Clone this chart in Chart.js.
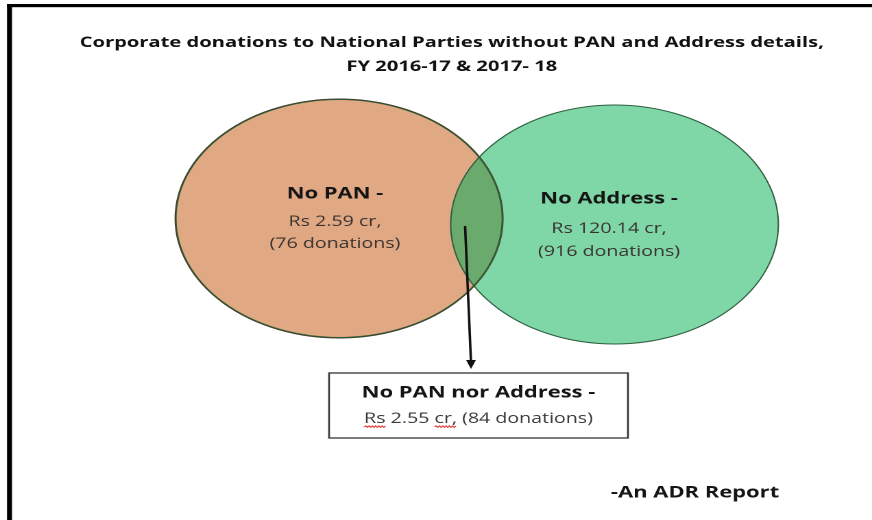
<!DOCTYPE html>
<html>
<head>
<meta charset="utf-8">
<title>Corporate donations without PAN and Address details</title>
<script src="https://cdn.jsdelivr.net/npm/chart.js@4.4.1/dist/chart.umd.min.js"></script>
<style>
  html, body { margin: 0; padding: 0; background: #fff; }
  /* the source graphic is stretched sideways, so the chart is drawn narrow and widened */
  #wrap { position: relative; width: 636px; height: 520px; transform: scaleX(1.3711); transform-origin: 0 0; }
</style>
</head>
<body>
<div id="wrap"><canvas id="venn"></canvas></div>
<script>
const titleLines = ["Corporate donations to National Parties without PAN and Address details,", "FY 2016-17 & 2017- 18"];
const setNames = ["No PAN -", "No Address -"];
const setAmountsCr = [2.59, 120.14];
const setDonations = [76, 916];
const overlapName = "No PAN nor Address -";
const overlapAmountCr = 2.55;
const overlapDonations = 84;
const sourceNote = "-An ADR Report";

// layout, in axis units (hidden axes run 1:1 with the unstretched canvas)
const circles = [
  { cx: 247.3, cy: 218.5, r: 119.5, fill: "#e1a884", stroke: "#4a3426" },
  { cx: 448.2, cy: 224.5, r: 119.5, fill: "#7fd6a6", stroke: "#2c5e3e" }
];
const labelPos = [
  { x: 244.3, y: [194, 222, 244] },
  { x: 444.2, y: [199, 229, 252] }
];
const arrowPos = { x1: 339.2, y1: 226, x2: 343.5, y2: 369 };
const boxPos = { left: 240, right: 458, top: 373, bottom: 438, y: [393, 419] };
const notePos = { x: 506.9, y: 493 };

const FAMILY = '"Open Sans", sans-serif';
const BOLD = "bold 16px " + FAMILY;
const REGULAR = "14.3px " + FAMILY;
const LENS_FILL = "#6aaa6c";

// bubble controller that does not pad the chart area for its huge circles
class VennController extends Chart.BubbleController {
  getMaxOverflow() {
    return false;
  }
}
VennController.id = "venn";
VennController.defaults = Chart.BubbleController.defaults;
VennController.overrides = Chart.BubbleController.overrides;
Chart.register(VennController);

function say(ctx, str, x, y, font, color) {
  ctx.font = font;
  ctx.fillStyle = color;
  ctx.textAlign = "center";
  ctx.textBaseline = "middle";
  ctx.fillText(str, x, y);
}

// Word's red spell-check squiggle under part of a line
function squiggle(ctx, x0, x1, y) {
  ctx.beginPath();
  let up = true;
  ctx.moveTo(x0, y);
  for (let x = x0 + 1.2; x <= x1; x += 1.2) {
    ctx.lineTo(x, up ? y - 1.1 : y + 0.4);
    up = !up;
  }
  ctx.strokeStyle = "#e0322c";
  ctx.lineWidth = 0.9;
  ctx.stroke();
}

const vennNotes = {
  id: "vennNotes",
  afterDatasetsDraw(chart) {
    const ctx = chart.ctx;
    const [a, b] = [0, 1].map(i => chart.getDatasetMeta(i).data[0]);
    const ra = a.options.radius, rb = b.options.radius;
    ctx.save();
    ctx.beginPath();
    ctx.arc(a.x, a.y, ra, 0, Math.PI * 2);
    ctx.clip();
    ctx.beginPath();
    ctx.arc(b.x, b.y, rb, 0, Math.PI * 2);
    ctx.fillStyle = LENS_FILL;
    ctx.fill();
    ctx.lineWidth = 1;
    ctx.strokeStyle = circles[1].stroke;
    ctx.stroke();
    ctx.beginPath();
    ctx.arc(a.x, a.y, ra, 0, Math.PI * 2);
    ctx.lineWidth = 2;
    ctx.strokeStyle = "#2f5a34";
    ctx.stroke();
    ctx.restore();
  },
  afterDraw(chart) {
    const ctx = chart.ctx;
    const xs = chart.scales.x, ys = chart.scales.y;
    const px = v => xs.getPixelForValue(v);
    const py = v => ys.getPixelForValue(v);
    ctx.save();

    setNames.forEach((name, i) => {
      const p = labelPos[i];
      say(ctx, name, px(p.x), py(p.y[0]), BOLD, "#151515");
      say(ctx, "Rs " + setAmountsCr[i] + " cr,", px(p.x), py(p.y[1]), REGULAR, "#3a3330");
      say(ctx, "(" + setDonations[i] + " donations)", px(p.x), py(p.y[2]), REGULAR, "#3a3330");
    });

    // arrow from the overlap down to the callout box
    const ax1 = px(arrowPos.x1), ay1 = py(arrowPos.y1);
    const ax2 = px(arrowPos.x2), ay2 = py(arrowPos.y2);
    ctx.beginPath();
    ctx.moveTo(ax1, ay1);
    ctx.lineTo(ax2, ay2 - 7);
    ctx.strokeStyle = "#111";
    ctx.lineWidth = 1.8;
    ctx.stroke();
    ctx.beginPath();
    ctx.moveTo(ax2, ay2);
    ctx.lineTo(ax2 - 3.6, ay2 - 9);
    ctx.lineTo(ax2 + 3.6, ay2 - 9);
    ctx.closePath();
    ctx.fillStyle = "#111";
    ctx.fill();

    // callout box for the overlap
    const bl = px(boxPos.left), br = px(boxPos.right);
    const bt = py(boxPos.top), bb = py(boxPos.bottom);
    ctx.fillStyle = "#fff";
    ctx.fillRect(bl, bt, br - bl, bb - bt);
    ctx.strokeStyle = "#333";
    ctx.lineWidth = 1.3;
    ctx.strokeRect(bl, bt, br - bl, bb - bt);
    const bx = (bl + br) / 2;
    say(ctx, overlapName, bx, py(boxPos.y[0]), BOLD, "#151515");
    const line2 = "Rs " + overlapAmountCr + " cr, (" + overlapDonations + " donations)";
    say(ctx, line2, bx, py(boxPos.y[1]), REGULAR, "#3a3a3a");
    ctx.font = REGULAR;
    const start = bx - ctx.measureText(line2).width / 2;
    const wRs = ctx.measureText("Rs").width;
    const wPre = ctx.measureText("Rs " + overlapAmountCr + " ").width;
    const wCr = ctx.measureText("cr,").width;
    const sy = py(boxPos.y[1]) + 8;
    squiggle(ctx, start, start + wRs, sy);
    squiggle(ctx, start + wPre, start + wPre + wCr, sy);

    say(ctx, sourceNote, px(notePos.x), py(notePos.y), BOLD, "#151515");

    // frame of the original slide: top and left rules
    ctx.fillStyle = "#000";
    ctx.fillRect(5.1, 4, chart.width, 3.2);
    ctx.fillRect(5.1, 4, 3.65, chart.height);
    ctx.restore();
  }
};

function build() {
  new Chart(document.getElementById("venn"), {
    type: "venn",
    data: {
      datasets: setNames.map((name, i) => ({
        label: name,
        data: [{ x: circles[i].cx, y: circles[i].cy }],
        pointStyle: "circle",
        radius: circles[i].r,
        backgroundColor: circles[i].fill,
        borderColor: circles[i].stroke,
        borderWidth: 1,
        clip: false
      }))
    },
    options: {
      responsive: true,
      maintainAspectRatio: false,
      devicePixelRatio: 2,
      animation: false,
      events: [],
      layout: { padding: { left: 23 } },
      scales: {
        x: { type: "linear", min: 23, max: 636, display: false },
        y: { type: "linear", min: 79, max: 520, reverse: true, display: false }
      },
      plugins: {
        legend: { display: false },
        tooltip: { enabled: false },
        title: {
          display: true,
          text: titleLines,
          color: "#111",
          font: { family: FAMILY, size: 14.7, weight: "bold", lineHeight: "24px" },
          padding: { top: 31, bottom: 0 }
        }
      }
    },
    plugins: [vennNotes]
  });
}

Promise.all([
  document.fonts.load(BOLD),
  document.fonts.load(REGULAR)
]).then(build, build);
</script>
</body>
</html>
